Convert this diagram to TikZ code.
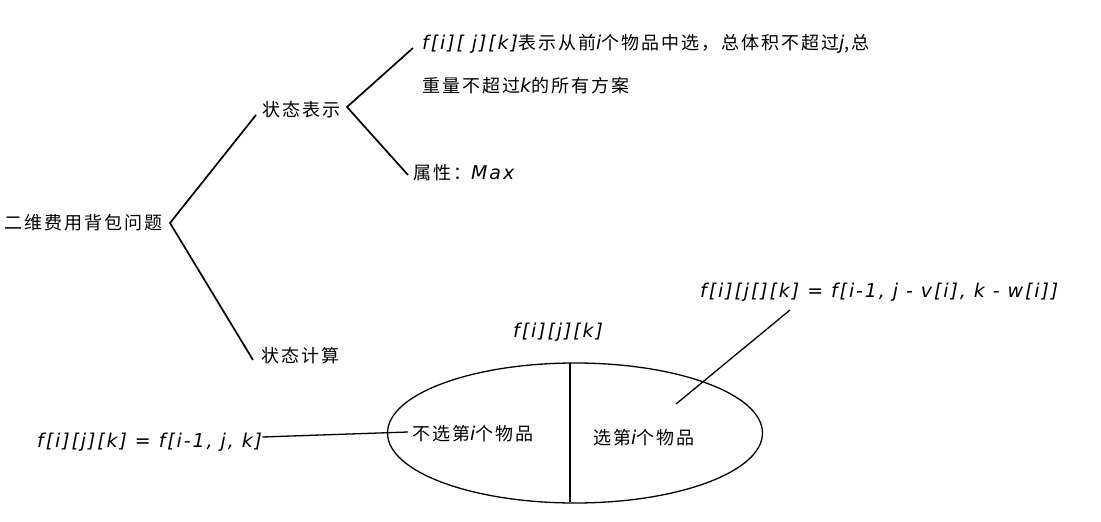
\documentclass[tikz,border=0pt]{standalone}
\usepackage{fontspec}
\usetikzlibrary{shapes.geometric}
\newfontfamily\cjk[LetterSpace=11]{Noto Sans CJK SC}
\newfontfamily\hwfont[LetterSpace=10]{DejaVu Sans}
\newcommand\hwt[1]{{\hwfont\itshape\fontsize{19}{20}\selectfont #1}}
\tikzset{
  zh/.style={font=\cjk\fontsize{18}{20}\selectfont, inner sep=0pt, anchor=west},
  hw/.style={font=\hwfont\itshape\fontsize{19}{20}\selectfont, inner sep=0pt, anchor=west},
  br/.style={line width=1.7pt},
  thin/.style={line width=1.3pt}
}
\begin{document}
\begin{tikzpicture}[x=1pt,y=-1pt]
\useasboundingbox[fill=white] (0,0) rectangle (1101,522);
% text nodes
\node[zh] (root) at (4,223) {二维费用背包问题};
\node[zh] (rep) at (262,110) {状态表示};
\node[zh] (calc) at (261,356) {状态计算};
\node[zh] (def1) at (422,44) {\hwt{f[i][ j][k]}表示从前\hwt{i}个物品中选，总体积不超过\hwt{j},总};
\node[zh] (def2) at (422,86) {重量不超过\hwt{k}的所有方案};
\node[zh] (attr) at (413,173) {属性：\hwt{Max}};
\node[hw] (f0) at (513,332) {f[i][j][k]};
\node[hw] (eqR) at (700,292) {f[i][j[][k] = f[i-1, j - v[i], k - w[i]]};
\node[hw] (eqL) at (37,442) {f[i][j][k] = f[i-1, j, k]};
% ellipse
\node[ellipse, draw, line width=1.3pt, minimum width=375, minimum height=140, inner sep=0pt] (ell) at (575,433) {};
\node[zh] (left) at (412,434) {不选第\hwt{i}个物品};
\node[zh] (right) at (593,438) {选第\hwt{i}个物品};
% brackets
\coordinate (v1) at (170,223);
\coordinate (v2) at (347,107);
\draw[br] ([xshift=-6pt,yshift=-5pt]rep.west) -- (v1) -- ([xshift=-8pt,yshift=-4pt]calc.west);
\draw[br] ([xshift=-9pt,yshift=-4pt]def1.west) -- (v2) -- ([xshift=-5pt,yshift=-2pt]attr.west);
% ellipse split
\draw[br] ([xshift=-5pt,yshift=-1pt]ell.north) -- ([xshift=-5pt,yshift=2pt]ell.south);
% connectors
\draw[thin] ([yshift=5pt]eqL.east) -- ([xshift=-4pt,yshift=2pt]left.west);
\coordinate (r1) at (676,404);
\coordinate (r2) at (790,310);
\draw[thin] (r1) -- (r2);
\end{tikzpicture}
\end{document}
